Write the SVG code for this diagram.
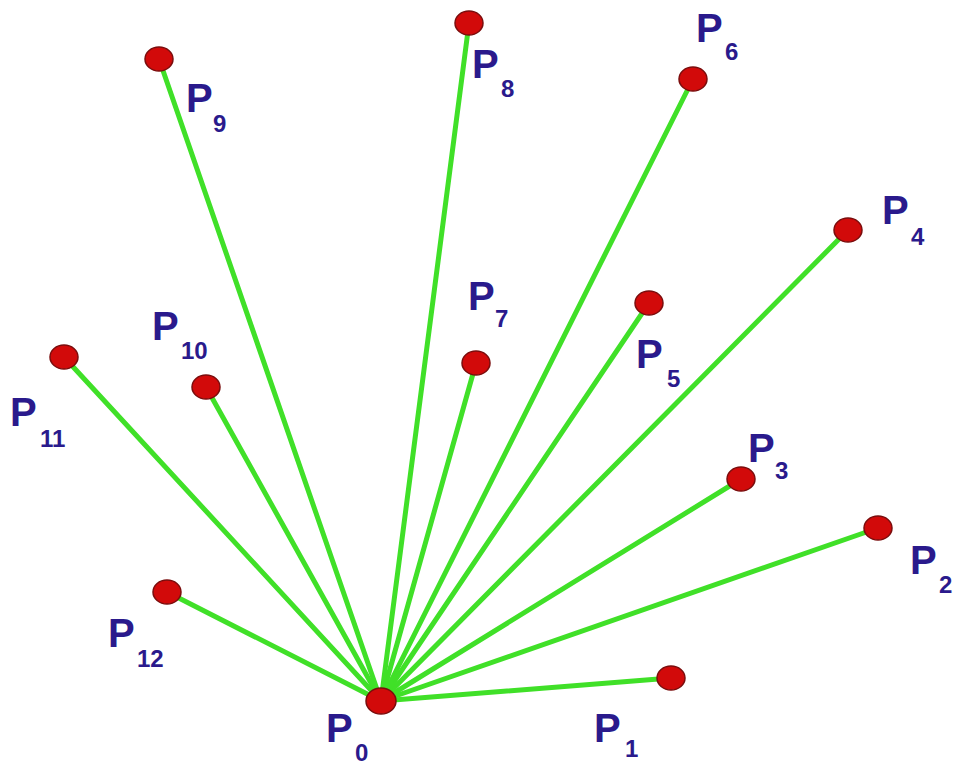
<svg xmlns="http://www.w3.org/2000/svg" width="959" height="765" viewBox="0 0 959 765">
<style>
.edge{stroke:#40e028;stroke-width:5;stroke-linecap:round}
.node{fill:#d20a0a;stroke:#7a0d0d;stroke-width:1.5}
.p{font-family:"Liberation Sans",Arial,sans-serif;font-weight:bold;font-size:40px;fill:#2a1a8c}
.s{font-family:"Liberation Sans",Arial,sans-serif;font-weight:bold;font-size:24px;fill:#2a1a8c}
</style>
<rect width="959" height="765" fill="#ffffff"/>
<g id="connectors">
<line class="edge" x1="381" y1="701" x2="671" y2="678"/>
<line class="edge" x1="381" y1="701" x2="878" y2="528"/>
<line class="edge" x1="381" y1="701" x2="741" y2="479"/>
<line class="edge" x1="381" y1="701" x2="848" y2="230"/>
<line class="edge" x1="381" y1="701" x2="649" y2="303"/>
<line class="edge" x1="381" y1="701" x2="693" y2="79"/>
<line class="edge" x1="381" y1="701" x2="476" y2="363"/>
<line class="edge" x1="381" y1="701" x2="469" y2="23"/>
<line class="edge" x1="381" y1="701" x2="159" y2="59"/>
<line class="edge" x1="381" y1="701" x2="206" y2="387"/>
<line class="edge" x1="381" y1="701" x2="64" y2="357"/>
<line class="edge" x1="381" y1="701" x2="167" y2="592"/>
</g>
<g id="P0"><ellipse class="node" cx="381" cy="701" rx="15" ry="13"/><text class="p" x="326" y="742">P</text><text class="s" x="355" y="761">0</text></g>
<g id="P1"><ellipse class="node" cx="671" cy="678" rx="14" ry="12"/><text class="p" x="594" y="742">P</text><text class="s" x="625" y="757">1</text></g>
<g id="P2"><ellipse class="node" cx="878" cy="528" rx="14" ry="12"/><text class="p" x="910" y="574">P</text><text class="s" x="939" y="593">2</text></g>
<g id="P3"><ellipse class="node" cx="741" cy="479" rx="14" ry="12"/><text class="p" x="748" y="462">P</text><text class="s" x="775" y="479">3</text></g>
<g id="P4"><ellipse class="node" cx="848" cy="230" rx="14" ry="12"/><text class="p" x="882" y="224">P</text><text class="s" x="911" y="245">4</text></g>
<g id="P5"><ellipse class="node" cx="649" cy="303" rx="14" ry="12"/><text class="p" x="636" y="368">P</text><text class="s" x="667" y="387">5</text></g>
<g id="P6"><ellipse class="node" cx="693" cy="79" rx="14" ry="12"/><text class="p" x="696" y="42">P</text><text class="s" x="725" y="60">6</text></g>
<g id="P7"><ellipse class="node" cx="476" cy="363" rx="14" ry="12"/><text class="p" x="468" y="310">P</text><text class="s" x="495" y="327">7</text></g>
<g id="P8"><ellipse class="node" cx="469" cy="23" rx="14" ry="12"/><text class="p" x="472" y="78">P</text><text class="s" x="501" y="97">8</text></g>
<g id="P9"><ellipse class="node" cx="159" cy="59" rx="14" ry="12"/><text class="p" x="186" y="112">P</text><text class="s" x="213" y="132">9</text></g>
<g id="P10"><ellipse class="node" cx="206" cy="387" rx="14" ry="12"/><text class="p" x="152" y="340">P</text><text class="s" x="181" y="359">10</text></g>
<g id="P11"><ellipse class="node" cx="64" cy="357" rx="14" ry="12"/><text class="p" x="10" y="426">P</text><text class="s" x="40" y="447">11</text></g>
<g id="P12"><ellipse class="node" cx="167" cy="592" rx="14" ry="12"/><text class="p" x="108" y="647">P</text><text class="s" x="137" y="667">12</text></g>
</svg>
